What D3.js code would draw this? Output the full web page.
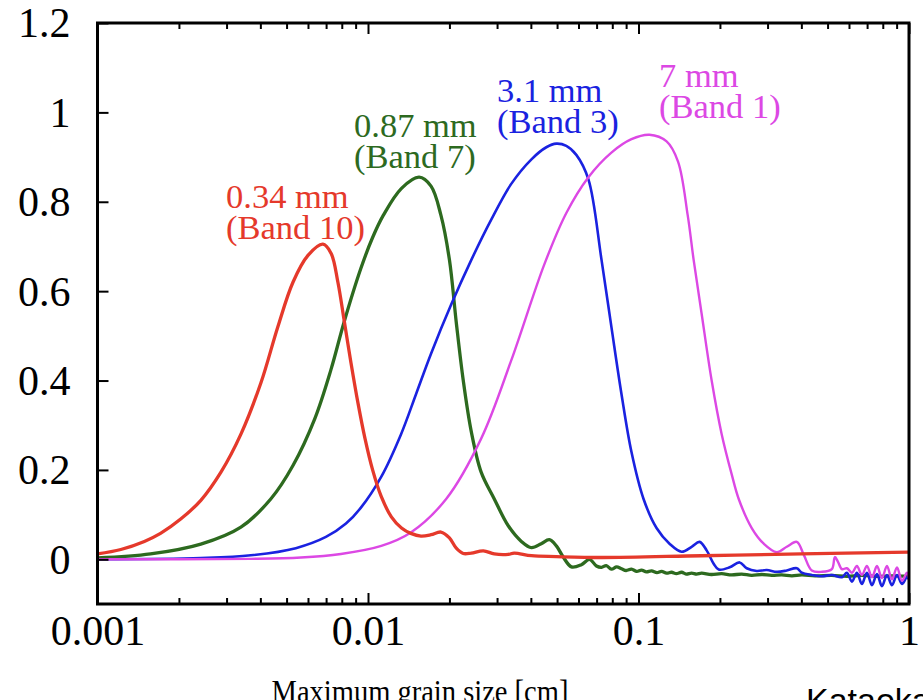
<!DOCTYPE html>
<html>
<head>
<meta charset="utf-8">
<script src="https://cdn.jsdelivr.net/npm/d3@7"></script>
<style>
  body { margin: 0; background: #ffffff; }
  svg { display: block; }
</style>
</head>
<body>
<svg id="chart" width="923" height="700"></svg>
<script>
// Axis ticks
const xTickValues = [0.001, 0.01, 0.1, 1];
const xTickLabels = ["0.001", "0.01", "0.1", "1"];
const yTickValues = [0, 0.2, 0.4, 0.6, 0.8, 1, 1.2];
const yTickLabels = ["0", "0.2", "0.4", "0.6", "0.8", "1", "1.2"];

// Curves: [maximum grain size (cm), value]
const band10 = [
  [0.001, 0.012], [0.00122, 0.022], [0.00149, 0.040], [0.00171, 0.058],
  [0.00203, 0.090], [0.00241, 0.132], [0.00286, 0.195], [0.00339, 0.280],
  [0.00402, 0.395], [0.00464, 0.520], [0.00528, 0.620], [0.00600, 0.680],
  [0.00681, 0.705], [0.00730, 0.685], [0.00774, 0.620],
  [0.00815, 0.537], [0.00865, 0.440], [0.00918, 0.350], [0.00975, 0.270],
  [0.0104, 0.200], [0.0112, 0.140], [0.0122, 0.095], [0.0133, 0.070],
  [0.0144, 0.058], [0.0157, 0.052], [0.0171, 0.055], [0.0186, 0.061],
  [0.0200, 0.048], [0.0212, 0.025], [0.0225, 0.013], [0.0241, 0.014],
  [0.0267, 0.019], [0.0293, 0.012], [0.0330, 0.011], [0.0347, 0.014],
  [0.0402, 0.008], [0.0497, 0.006], [0.073, 0.004], [0.171, 0.008],
  [0.40, 0.012], [1.0, 0.016]
];

const band7 = [
  [0.001, 0.003], [0.00157, 0.012], [0.00241, 0.034], [0.00339, 0.072],
  [0.00437, 0.135], [0.00528, 0.210], [0.00636, 0.315], [0.0073, 0.425],
  [0.00815, 0.530], [0.0094, 0.650], [0.0104, 0.720], [0.0114, 0.770],
  [0.0133, 0.830], [0.01545, 0.855], [0.0171, 0.835], [0.0186, 0.770],
  [0.0200, 0.670], [0.0212, 0.530], [0.0225, 0.400], [0.0241, 0.285],
  [0.0262, 0.195], [0.0293, 0.135], [0.0330, 0.075], [0.0369, 0.040],
  [0.0402, 0.026], [0.0437, 0.035], [0.0468, 0.044], [0.0497, 0.030],
  [0.0527, 0.005], [0.0565, -0.017], [0.0615, -0.012], [0.0659, 0.000],
  [0.0699, -0.015], [0.0730, -0.018], [0.0760, -0.014], [0.0794, -0.022],
  [0.0830, -0.017], [0.0865, -0.021], [0.0900, -0.025], [0.0942, -0.022],
  [0.0985, -0.027], [0.1026, -0.024], [0.107, -0.028], [0.1117, -0.026],
  [0.117, -0.030], [0.1217, -0.027], [0.127, -0.031], [0.1325, -0.029],
  [0.138, -0.032], [0.1443, -0.029], [0.150, -0.033], [0.1572, -0.031],
  [0.164, -0.033], [0.1711, -0.031], [0.186, -0.034], [0.203, -0.032],
  [0.221, -0.035], [0.2407, -0.033], [0.262, -0.036], [0.2855, -0.034],
  [0.311, -0.036], [0.3385, -0.035], [0.369, -0.037], [0.4016, -0.035],
  [0.45, -0.037], [0.5185, -0.036], [0.59, -0.038], [0.6697, -0.036],
  [0.76, -0.038], [0.865, -0.037], [1.0, -0.038]
];

const band3 = [
  [0.001, 0.000], [0.00241, 0.003], [0.00369, 0.009], [0.00541, 0.025],
  [0.00699, 0.050], [0.00829, 0.080], [0.0094, 0.115], [0.0112, 0.185],
  [0.01325, 0.280], [0.01506, 0.370], [0.0171, 0.460], [0.0203, 0.570],
  [0.0241, 0.670], [0.02855, 0.760], [0.03385, 0.840], [0.0402, 0.895],
  [0.04563, 0.922], [0.0497, 0.930], [0.0541, 0.925], [0.0589, 0.905],
  [0.0653, 0.850], [0.0730, 0.670], [0.0794, 0.520], [0.0865, 0.370],
  [0.0942, 0.240], [0.1044, 0.135], [0.1166, 0.070], [0.1302, 0.035],
  [0.1443, 0.017], [0.1572, 0.028], [0.1682, 0.039], [0.1786, 0.020],
  [0.1896, -0.010], [0.1979, -0.023], [0.2173, -0.018], [0.2366, -0.007],
  [0.2512, -0.020], [0.2735, -0.026], [0.2979, -0.024], [0.3245, -0.028],
  [0.3533, -0.025], [0.3847, -0.020], [0.4016, -0.030], [0.4372, -0.035],
  [0.4762, -0.038], [0.5185, -0.035], [0.5648, -0.040], [0.5893, -0.030],
  [0.6152, -0.050], [0.6418, -0.030], [0.6695, -0.055], [0.6990, -0.030],
  [0.7295, -0.058], [0.7613, -0.033], [0.7943, -0.060], [0.8289, -0.035],
  [0.8650, -0.058], [0.9028, -0.035], [0.9421, -0.055], [0.983, -0.040],
  [1.0, -0.045]
];

const band1 = [
  [0.001, 0.000], [0.00369, 0.001], [0.00565, 0.004], [0.00794, 0.012],
  [0.0112, 0.030], [0.0144, 0.060], [0.01945, 0.135], [0.0262, 0.270],
  [0.03385, 0.445], [0.04486, 0.660], [0.0541, 0.775], [0.0653, 0.855],
  [0.0794, 0.910], [0.0942, 0.940], [0.1098, 0.950], [0.1270, 0.935],
  [0.1400, 0.890], [0.1520, 0.770], [0.1599, 0.670], [0.1711, 0.550],
  [0.1864, 0.400], [0.2030, 0.280], [0.2211, 0.190], [0.2347, 0.135],
  [0.2622, 0.070], [0.2904, 0.035], [0.3245, 0.016], [0.3533, 0.028],
  [0.3847, 0.039], [0.4084, 0.010], [0.4372, -0.025], [0.4762, -0.028],
  [0.5185, -0.022], [0.5320, 0.005], [0.5458, -0.005], [0.5648, -0.022],
  [0.5893, -0.020], [0.6152, -0.030], [0.6418, -0.015], [0.6695, -0.035],
  [0.6990, -0.015], [0.7295, -0.040], [0.7613, -0.015], [0.7943, -0.042],
  [0.8289, -0.015], [0.8650, -0.045], [0.9028, -0.018], [0.9421, -0.048],
  [0.983, -0.030], [1.0, -0.042]
];

const wavelengths = ["0.34 mm", "0.87 mm", "3.1 mm", "7 mm"];
const bands = ["(Band 10)", "(Band 7)", "(Band 3)", "(Band 1)"];

const margin = { left: 97.5, right: 909, top: 23, bottom: 604 };
const serif = "'Liberation Serif', 'Times New Roman', serif";

const svg = d3.select("#chart");

const x = d3.scaleLog().domain([0.001, 1]).range([margin.left, margin.right]);
const y = d3.scaleLinear().domain([-0.1, 1.2]).range([margin.bottom, margin.top]);

svg.append("defs").append("clipPath").attr("id", "plot-clip")
  .append("rect")
  .attr("x", margin.left).attr("y", margin.top)
  .attr("width", margin.right - margin.left)
  .attr("height", margin.bottom - margin.top);

// Curves, drawn back to front
const curves = [
  { data: band7, color: "#2d6a1f", width: 3.3, name: 1, lx: 354, ly: 137 },
  { data: band3, color: "#1a22e0", width: 2.6, name: 2, lx: 497, ly: 102 },
  { data: band1, color: "#dc48e4", width: 2.4, name: 3, lx: 659, ly: 87 },
  { data: band10, color: "#e5392b", width: 3.3, name: 0, lx: 226, ly: 208 }
];

const line = d3.line()
  .x(d => x(d[0]))
  .y(d => y(d[1]))
  .curve(d3.curveCatmullRom.alpha(0.5));

const plot = svg.append("g").attr("clip-path", "url(#plot-clip)");
curves.forEach(c => {
  plot.append("path")
    .datum(c.data)
    .attr("d", line)
    .attr("fill", "none")
    .attr("stroke", c.color)
    .attr("stroke-width", c.width)
    .attr("stroke-linejoin", "round");
});

// Curve annotations
curves.forEach(c => {
  const t = svg.append("text")
    .attr("font-family", serif)
    .attr("font-size", 34.5)
    .attr("fill", c.color);
  t.append("tspan").attr("x", c.lx).attr("y", c.ly).text(wavelengths[c.name]);
  t.append("tspan").attr("x", c.lx).attr("y", c.ly + 31).text(bands[c.name]);
});

// Minor x ticks
const minorX = [];
[0.001, 0.01, 0.1].forEach(dec => {
  for (let k = 2; k <= 9; k++) minorX.push(dec * k);
});

function styleAxis(g) {
  g.select(".domain").remove();
  g.selectAll(".tick line").attr("stroke", "#000").attr("stroke-width", 2);
}

svg.append("g")
  .attr("transform", `translate(0,${margin.bottom})`)
  .call(d3.axisBottom(x).tickValues(minorX).tickFormat("").tickSizeInner(-6).tickSizeOuter(0))
  .call(styleAxis);
svg.append("g")
  .attr("transform", `translate(0,${margin.top})`)
  .call(d3.axisTop(x).tickValues(minorX).tickFormat("").tickSizeInner(-6).tickSizeOuter(0))
  .call(styleAxis);

// Major x ticks with labels
const xAxisBottom = svg.append("g")
  .attr("transform", `translate(0,${margin.bottom})`)
  .call(d3.axisBottom(x).tickValues(xTickValues)
    .tickFormat((d, i) => xTickLabels[i])
    .tickSizeInner(-11).tickSizeOuter(0).tickPadding(11))
  .call(styleAxis);
xAxisBottom.selectAll("text")
  .attr("font-family", serif).attr("font-size", 42).attr("fill", "#000");

svg.append("g")
  .attr("transform", `translate(0,${margin.top})`)
  .call(d3.axisTop(x).tickValues(xTickValues).tickFormat("")
    .tickSizeInner(-11).tickSizeOuter(0))
  .call(styleAxis);

// Y axis with labels
const yAxis = svg.append("g")
  .attr("transform", `translate(${margin.left},0)`)
  .call(d3.axisLeft(y).tickValues(yTickValues)
    .tickFormat((d, i) => yTickLabels[i])
    .tickSizeInner(-11).tickSizeOuter(0).tickPadding(27))
  .call(styleAxis);
yAxis.selectAll("text")
  .attr("font-family", serif).attr("font-size", 42).attr("fill", "#000")
  .attr("dy", "0.33em");

// Frame
svg.append("rect")
  .attr("x", margin.left).attr("y", margin.top)
  .attr("width", margin.right - margin.left)
  .attr("height", margin.bottom - margin.top)
  .attr("fill", "none")
  .attr("stroke", "#000")
  .attr("stroke-width", 3);

// Axis title and credit
svg.append("text")
  .attr("transform", "translate(420,702) scale(0.92,1)")
  .attr("text-anchor", "middle")
  .attr("font-family", serif)
  .attr("font-size", 31)
  .attr("fill", "#000")
  .text("Maximum grain size [cm]");

svg.append("text")
  .attr("x", 806).attr("y", 712)
  .attr("font-family", "'Liberation Sans', Arial, sans-serif")
  .attr("font-size", 34)
  .attr("fill", "#000")
  .text("Kataoka et al.");
</script>
</body>
</html>
